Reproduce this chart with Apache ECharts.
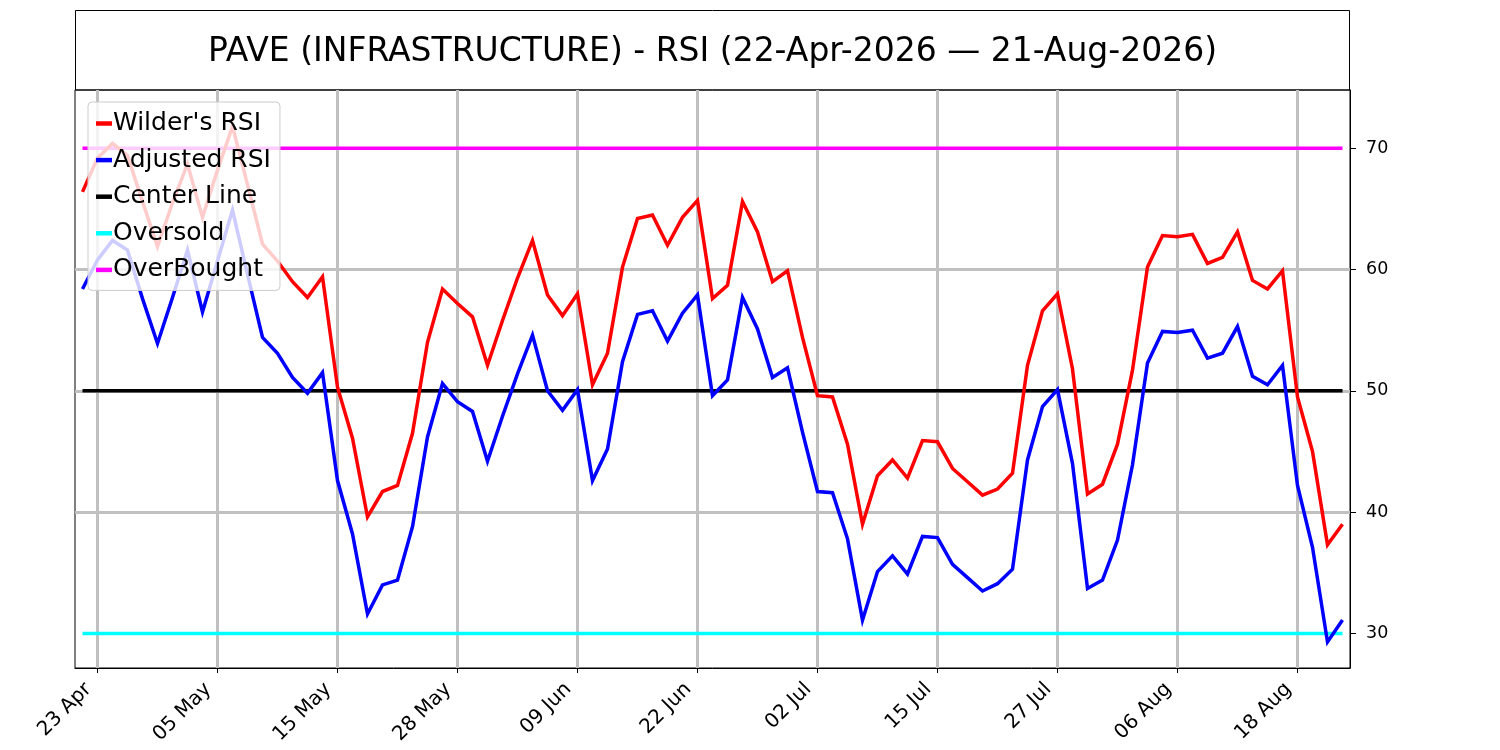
<!DOCTYPE html>
<html>
<head>
<meta charset="utf-8">
<script src="https://cdn.jsdelivr.net/npm/echarts@6/dist/echarts.min.js"></script>
<style>
  html, body { margin: 0; padding: 0; background: #fff; }
  #chart { width: 1500px; height: 750px; }
</style>
</head>
<body>
<div id="chart"></div>
<script>
const titleText = 'PAVE (INFRASTRUCTURE) - RSI (22-Apr-2026 \u2014 21-Aug-2026)';

const categories = [
  '22 Apr','23 Apr','24 Apr','27 Apr','28 Apr','29 Apr','30 Apr',
  '01 May','04 May','05 May','06 May','07 May','08 May','11 May','12 May','13 May','14 May','15 May',
  '18 May','19 May','20 May','21 May','22 May','26 May','27 May','28 May','29 May',
  '01 Jun','02 Jun','03 Jun','04 Jun','05 Jun','08 Jun','09 Jun','10 Jun','11 Jun','12 Jun',
  '15 Jun','16 Jun','17 Jun','18 Jun','22 Jun','23 Jun','24 Jun','25 Jun','26 Jun','29 Jun','30 Jun',
  '01 Jul','02 Jul','06 Jul','07 Jul','08 Jul','09 Jul','10 Jul','13 Jul','14 Jul','15 Jul',
  '16 Jul','17 Jul','20 Jul','21 Jul','22 Jul','23 Jul','24 Jul','27 Jul','28 Jul','29 Jul','30 Jul','31 Jul',
  '03 Aug','04 Aug','05 Aug','06 Aug','07 Aug','10 Aug','11 Aug','12 Aug','13 Aug','14 Aug',
  '17 Aug','18 Aug','19 Aug','20 Aug','21 Aug'
];

const wildersRSI = [
  66.4, 69.2, 70.4, 69.4, 65.6, 61.9, 65.5, 68.7, 64.3, 68.2,
  71.8, 67.0, 62.1, 60.7, 59.0, 57.7, 59.4, 50.3, 46.1, 39.6,
  41.7, 42.2, 46.5, 54.0, 58.4, 57.2, 56.1, 52.1, 55.8, 59.3,
  62.4, 57.9, 56.2, 58.0, 50.5, 53.1, 60.2, 64.2, 64.5, 62.0,
  64.3, 65.7, 57.6, 58.7, 65.6, 63.1, 59.0, 59.9, 54.4, 49.6,
  49.5, 45.6, 39.0, 43.0, 44.3, 42.8, 45.9, 45.8, 43.6, 42.5,
  41.4, 41.9, 43.2, 52.1, 56.6, 58.0, 51.8, 41.5, 42.3, 45.6,
  51.7, 60.2, 62.8, 62.7, 62.9, 60.5, 61.0, 63.1, 59.1, 58.4,
  59.9, 49.5, 45.0, 37.3, 39.0
];

const adjustedRSI = [
  58.4, 60.8, 62.4, 61.6, 57.6, 53.9, 57.7, 61.6, 56.5, 60.7,
  64.9, 59.6, 54.4, 53.1, 51.1, 49.8, 51.5, 42.6, 38.2, 31.6,
  34.0, 34.4, 38.8, 46.2, 50.6, 49.1, 48.3, 44.2, 47.9, 51.4,
  54.6, 50.0, 48.4, 50.1, 42.6, 45.2, 52.4, 56.3, 56.6, 54.1,
  56.4, 57.9, 49.6, 50.9, 57.7, 55.1, 51.1, 51.9, 46.6, 41.7,
  41.6, 37.8, 31.1, 35.1, 36.4, 34.9, 38.0, 37.9, 35.7, 34.6,
  33.5, 34.1, 35.3, 44.3, 48.7, 50.1, 44.0, 33.7, 34.4, 37.7,
  43.9, 52.3, 54.9, 54.8, 55.0, 52.7, 53.1, 55.3, 51.2, 50.5,
  52.1, 42.2, 37.1, 29.3, 31.1
];

const centerLevel = 50;
const oversoldLevel = 30;
const overboughtLevel = 70;

const yTicks = [30, 40, 50, 60, 70];

const seriesNames = ["Wilder's RSI", 'Adjusted RSI', 'Center Line', 'Oversold', 'OverBought'];
const seriesColors = ['#ff0000', '#0000ff', '#000000', '#00ffff', '#ff00ff'];

// helpers
const firstCat = categories[0];
const lastCat = categories[categories.length - 1];
function levelLine(v) { return [[firstCat, v], [lastCat, v]]; }
const showTick = (idx) => (idx - 1) % 8 === 0;

const FONT = '"DejaVu Sans", "Liberation Sans", sans-serif';
const LW = 3.5;

function lineSeries(name, color, data, z) {
  return {
    name: name,
    type: 'line',
    data: data,
    symbol: 'none',
    showSymbol: false,
    smooth: false,
    z: z,
    lineStyle: { color: color, width: LW, cap: 'butt', join: 'miter' },
    itemStyle: { color: color },
    emphasis: { disabled: true },
    animation: false
  };
}

const chart = echarts.init(document.getElementById('chart'), null, { renderer: 'canvas' });

chart.setOption({
  backgroundColor: '#ffffff',
  animation: false,
  graphic: [
    {
      type: 'rect',
      shape: { x: 75.5, y: 10.5, width: 1274, height: 79.5 },
      style: { fill: 'none', stroke: '#000000', lineWidth: 1 },
      silent: true
    },
    {
      type: 'text',
      x: 712.5,
      y: 52,
      style: {
        text: titleText,
        fontSize: 33,
        fontFamily: FONT,
        fill: '#000000',
        align: 'center',
        verticalAlign: 'middle'
      },
      silent: true
    }
  ],
  grid: {
    left: 75, right: 150, top: 90, bottom: 82,
    show: true,
    borderColor: '#000000',
    borderWidth: 1,
    backgroundColor: 'transparent'
  },
  legend: {
    orient: 'vertical',
    left: 88,
    top: 102,
    data: seriesNames,
    icon: 'rect',
    itemWidth: 16,
    itemHeight: 4.5,
    itemGap: 11.6,
    padding: [9, 9, 8, 8],
    backgroundColor: 'rgba(255,255,255,0.8)',
    borderColor: '#cccccc',
    borderWidth: 1,
    borderRadius: 4,
    selectedMode: false,
    z: 10,
    textStyle: { fontSize: 25, fontFamily: FONT, color: '#000000', lineHeight: 25, padding: [0, 0, 0, -4] }
  },
  xAxis: {
    type: 'category',
    data: categories,
    boundaryGap: true,
    axisLine: { show: true, lineStyle: { color: '#000000', width: 1 } },
    axisTick: { show: true, interval: showTick, alignWithLabel: true, length: 5, lineStyle: { color: '#000000', width: 1 } },
    axisLabel: { show: true, interval: showTick, rotate: 45, fontSize: 20, fontFamily: FONT, color: '#000000', margin: 9, padding: [0, 13, 0, 0] },
    splitLine: { show: true, interval: showTick, alignWithLabel: true, lineStyle: { color: '#c0c0c0', width: 3 } }
  },
  yAxis: {
    type: 'value',
    position: 'right',
    min: 27.15,
    max: 74.8,
    axisLine: { show: true, lineStyle: { color: '#000000', width: 1 } },
    axisTick: { show: true, customValues: yTicks, length: 6, lineStyle: { color: '#000000', width: 1 } },
    axisLabel: { show: true, customValues: yTicks, fontSize: 17.5, fontFamily: FONT, color: '#000000', margin: 16 },
    splitLine: { show: true, showMinLine: false, showMaxLine: false, lineStyle: { color: '#c0c0c0', width: 3 } }
  },
  series: [
    lineSeries(seriesNames[0], seriesColors[0], wildersRSI, 5),
    lineSeries(seriesNames[1], seriesColors[1], adjustedRSI, 5),
    lineSeries(seriesNames[2], seriesColors[2], levelLine(centerLevel), 3),
    lineSeries(seriesNames[3], seriesColors[3], levelLine(oversoldLevel), 3),
    lineSeries(seriesNames[4], seriesColors[4], levelLine(overboughtLevel), 3)
  ]
});
</script>
</body>
</html>
